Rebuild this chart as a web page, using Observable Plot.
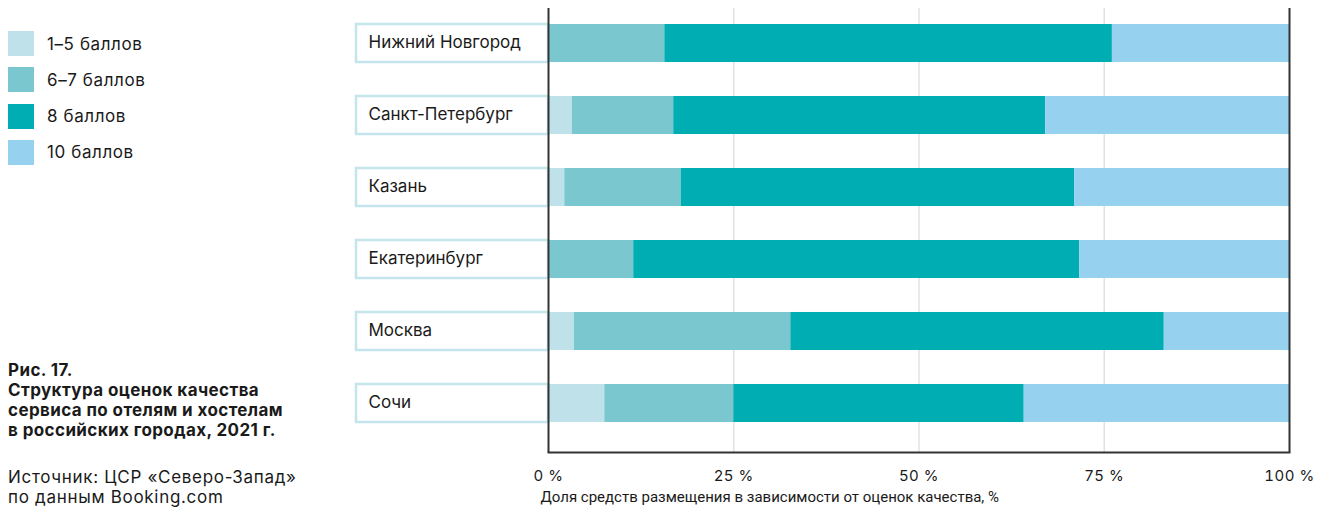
<!DOCTYPE html>
<html>
<head>
<meta charset="utf-8">
<script src="https://cdn.jsdelivr.net/npm/d3@7"></script>
<script src="https://cdn.jsdelivr.net/npm/@observablehq/plot@0.6"></script>
<style>
  html, body { margin: 0; padding: 0; background: #fff; }
  body { width: 1333px; height: 511px; overflow: hidden; font-family: Inter, "Noto Sans", sans-serif; color: #1a1a1a; }
  #wrap { display: flex; width: 1333px; height: 511px; }
  #left { position: relative; width: 340px; height: 511px; flex: none; }
  #legend { position: absolute; left: 8px; top: 31px; }
  .li { display: flex; align-items: center; height: 25px; margin-bottom: 11.3px; font-size: 17px; letter-spacing: 0.6px; }
  .sw { width: 26px; height: 25px; margin-right: 13px; flex: none; }
  #caption { position: absolute; left: 8px; top: 360px; font-size: 17px; line-height: 20px; letter-spacing: 0.4px; }
  #caption .t { font-weight: 700; }
  #caption .s { margin-top: 27px; line-height: 20px; letter-spacing: 0.7px; }
  #chart svg { overflow: visible; }
</style>
</head>
<body>
<div id="wrap">
  <div id="left">
    <div id="legend"></div>
    <div id="caption">
      <div class="t">Рис. 17.<br>Структура оценок качества<br>сервиса по отелям и хостелам<br>в российских городах, 2021 г.</div>
      <div class="s">Источник: ЦСР «Северо-Запад»<br>по данным Booking.com</div>
    </div>
  </div>
  <div id="chart"></div>
</div>
<script>
const cities = ["Нижний Новгород", "Санкт-Петербург", "Казань", "Екатеринбург", "Москва", "Сочи"];
const categories = ["1–5 баллов", "6–7 баллов", "8 баллов", "10 баллов"];
const colors = ["#bfe2ea", "#7bc7d0", "#00adb3", "#96d1f0"];
const score1to5 = [0, 3.2, 2.2, 0, 3.5, 7.6];
const score6to7 = [15.7, 13.7, 15.7, 11.5, 29.2, 17.4];
const score8 = [60.4, 50.2, 53.1, 60.2, 50.4, 39.2];
const score10 = [23.9, 32.9, 29.0, 28.3, 16.9, 35.8];
const xTicks = [0, 25, 50, 75, 100];
const xTitle = "Доля средств размещения в зависимости от оценок качества, %";

const series = [score1to5, score6to7, score8, score10];
const data = [];
cities.forEach((c, i) => categories.forEach((k, j) => data.push({city: c, cat: k, value: series[j][i]})));

// legend
const legend = document.getElementById("legend");
categories.forEach((k, j) => {
  const d = document.createElement("div");
  d.className = "li";
  d.innerHTML = `<span class="sw" style="background:${colors[j]}"></span><span>${k}</span>`;
  legend.appendChild(d);
});

const chart = Plot.plot({
  width: 993,
  height: 511,
  marginLeft: 208,
  marginRight: 44,
  marginTop: 8,
  marginBottom: 59,
  style: {fontFamily: "Inter, 'Noto Sans', sans-serif", fontSize: "16px", color: "#1a1a1a", background: "transparent"},
  x: {domain: [0, 100], ticks: xTicks, tickFormat: d => d + " %", tickSize: 0, tickPadding: 18, label: null},
  y: {domain: cities, range: [24, 422], paddingInner: 0.472, paddingOuter: 0, round: false, axis: null},
  color: {domain: categories, range: colors},
  marks: [
    Plot.ruleX([25, 50, 75], {stroke: "#e2e2e2", strokeWidth: 1.5}),
    Plot.barX(data, Plot.stackX({y: "city", x: "value", fill: "cat", order: categories})),
    Plot.barX(cities, {y: d => d, x1: 0, x2: 0, insetLeft: -192, fill: "#fff", stroke: "#c4e5ec", strokeWidth: 2.5}),
    Plot.text(cities, {y: d => d, frameAnchor: "left", dx: -180, dy: -1, text: d => d, textAnchor: "start", fontSize: 17, fill: "#1a1a1a", letterSpacing: "0.6px"}),
    Plot.ruleX([0, 100], {stroke: "#333", strokeWidth: 2}),
    Plot.frame({anchor: "bottom", stroke: "#333", strokeWidth: 2}),
    Plot.text([xTitle], {frameAnchor: "bottom-left", dx: -8, dy: 49, text: d => d, textAnchor: "start", fontSize: 15, fill: "#1a1a1a", fontFamily: "Roboto", letterSpacing: "0.05px"})
  ]
});
chart.querySelectorAll("g[aria-label='x-axis tick label'] text").forEach(t => {
  t.style.fontFamily = "Inter"; t.style.fontSize = "15px"; t.style.letterSpacing = "0.5px";
});
document.getElementById("chart").appendChild(chart);
</script>
</body>
</html>
